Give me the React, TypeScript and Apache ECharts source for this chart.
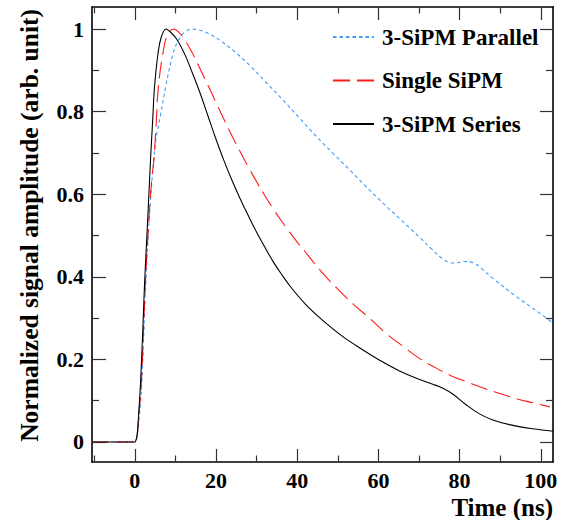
import React, { useEffect, useRef } from "react";
import * as echarts from "echarts";

// ---- Data ----
const PARALLEL_T = [-10.6, 0, 0.3, 0.6, 1.0, 1.7, 2.7, 3.6, 4.7, 5.3, 6.3, 7.7, 9.4, 10.6, 12, 14, 16, 18, 21.3, 24.5, 28.3, 32, 36.5, 40.5, 44.7, 48.8, 52.9, 56.5, 60.3, 65.2, 70.1, 73, 75.9, 77.5, 79, 80.8, 83.3, 85.5, 88.2, 94, 99.7, 102.6];
const PARALLEL_V = [0, 0, 0.004, 0.015, 0.05, 0.143, 0.385, 0.545, 0.69, 0.74, 0.79, 0.865, 0.94, 0.97, 0.99, 1.0, 0.997, 0.99, 0.97, 0.946, 0.912, 0.874, 0.828, 0.785, 0.74, 0.699, 0.659, 0.623, 0.586, 0.541, 0.496, 0.468, 0.443, 0.435, 0.433, 0.437, 0.434, 0.419, 0.396, 0.352, 0.312, 0.291];

const SINGLE_T = [-10.6, 0, 0.3, 0.6, 0.9, 1.6, 2.6, 3.5, 4.2, 4.7, 5.3, 5.8, 6.9, 8, 9.6, 11, 12.2, 14, 16, 18, 20, 22, 24, 26, 28, 30, 32, 34, 36, 38, 40, 42, 46, 50, 54, 58, 62, 66, 70, 74, 78, 82, 86, 90, 94, 98, 102.2];
const SINGLE_V = [0, 0, 0.004, 0.018, 0.055, 0.143, 0.385, 0.545, 0.64, 0.683, 0.78, 0.86, 0.94, 0.985, 1.0, 0.99, 0.975, 0.945, 0.905, 0.864, 0.822, 0.78, 0.74, 0.702, 0.665, 0.63, 0.597, 0.566, 0.537, 0.51, 0.484, 0.46, 0.412, 0.37, 0.332, 0.298, 0.262, 0.232, 0.203, 0.18, 0.16, 0.145, 0.13, 0.117, 0.105, 0.095, 0.085];

const SERIES_T = [-10.6, 0, 0.3, 0.6, 0.9, 1.4, 2.0, 2.4, 3.2, 3.9, 4.4, 4.85, 5.7, 6.5, 7.7, 8.5, 10.2, 12.2, 14, 16, 18, 20, 22, 24, 26, 28, 30, 32, 34, 36, 38.5, 42, 46, 51, 56, 60.3, 65.2, 70, 73.4, 75.9, 78.3, 81.6, 84.9, 88, 92.3, 98, 103];
const SERIES_V = [0, 0, 0.005, 0.02, 0.061, 0.143, 0.28, 0.385, 0.545, 0.69, 0.78, 0.86, 0.94, 0.98, 1.0, 0.995, 0.977, 0.941, 0.898, 0.847, 0.79, 0.733, 0.68, 0.632, 0.588, 0.547, 0.508, 0.472, 0.438, 0.408, 0.374, 0.334, 0.297, 0.257, 0.224, 0.198, 0.172, 0.152, 0.14, 0.13, 0.116, 0.09, 0.068, 0.054, 0.042, 0.032, 0.026];

const SERIES_NAMES = ["3-SiPM Parallel", "Single SiPM", "3-SiPM Series"];

const MAJOR_X = [0, 20, 40, 60, 80, 100];
const MINOR_X = [-10, 10, 30, 50, 70, 90];
const MAJOR_Y = [0, 0.2, 0.4, 0.6, 0.8, 1];
const MINOR_Y = [0.1, 0.3, 0.5, 0.7, 0.9];

const X_TITLE = "Time (ns)";
const Y_TITLE = "Normalized signal amplitude (arb. unit)";

const XMIN = -10.55;
const XMAX = 103;
const YMIN = -0.0485;
const YMAX = 1.0533;

const FONT = "Liberation Serif";

function zip(t: number[], v: number[]) {
  return t.map((x, i) => [x, v[i]]);
}

export default function App() {
  const ref = useRef<HTMLDivElement>(null);
  useEffect(() => {
    if (!ref.current) return;
    const chart = echarts.init(ref.current, undefined, { renderer: "svg" });
    const gridBox = { left: 92, right: 16, top: 7, bottom: 58 };
    const lineCol = "#000";
    const tickCol = "#333";
    const mkX = (grid: number, pos: string, vals: number[], len: number, labels: boolean, line: boolean) => ({
      type: "value",
      gridIndex: grid,
      position: pos,
      min: XMIN,
      max: XMAX,
      axisLine: { show: line, onZero: false, lineStyle: { color: lineCol, width: 1.6 } },
      axisTick: { show: true, inside: true, length: len, customValues: vals, lineStyle: { color: tickCol, width: 1.2 } },
      axisLabel: labels
        ? { show: true, customValues: vals, margin: 7, fontFamily: FONT, fontWeight: "bold", fontSize: 22, color: "#000" }
        : { show: false },
      splitLine: { show: false },
    });
    const mkY = (grid: number, pos: string, vals: number[], len: number, labels: boolean, line: boolean) => ({
      type: "value",
      gridIndex: grid,
      position: pos,
      min: YMIN,
      max: YMAX,
      axisLine: { show: line, onZero: false, lineStyle: { color: lineCol, width: 1.6 } },
      axisTick: { show: true, inside: true, length: len, customValues: vals, lineStyle: { color: tickCol, width: 1.2 } },
      axisLabel: labels
        ? { show: true, customValues: vals, margin: 8, fontFamily: FONT, fontWeight: "bold", fontSize: 22, color: "#000" }
        : { show: false },
      splitLine: { show: false },
    });
    chart.setOption({
      animation: false,
      backgroundColor: "#fff",
      textStyle: { fontFamily: FONT },
      grid: [
        { ...gridBox, containLabel: false },
        { ...gridBox, containLabel: false },
      ],
      xAxis: [
        mkX(0, "bottom", MAJOR_X, 13, true, true),
        mkX(0, "top", MAJOR_X, 13, false, true),
        mkX(1, "bottom", MINOR_X, 6.5, false, false),
        mkX(1, "top", MINOR_X, 6.5, false, false),
      ],
      yAxis: [
        mkY(0, "left", MAJOR_Y, 14, true, true),
        mkY(0, "right", MAJOR_Y, 13, false, true),
        mkY(1, "left", MINOR_Y, 7, false, false),
        mkY(1, "right", MINOR_Y, 7, false, false),
      ],
      legend: {
        orient: "vertical",
        left: 327,
        top: 20,
        itemWidth: 41,
        itemHeight: 12,
        itemGap: 19.5,
        data: SERIES_NAMES,
        itemStyle: { opacity: 0 },
        textStyle: { fontFamily: FONT, fontWeight: "bold", fontSize: 23, color: "#000", lineHeight: 24, padding: [0, 0, 0, 3] },
      },
      graphic: [
        {
          type: "text",
          x: 553,
          y: 507,
          style: { text: X_TITLE, align: "right", verticalAlign: "middle", font: "bold 25px Liberation Serif", fill: "#000" },
        },
        {
          type: "text",
          x: 29,
          y: 9,
          rotation: Math.PI / 2,
          style: { text: Y_TITLE, align: "right", verticalAlign: "middle", font: "bold 25.5px Liberation Serif", fill: "#000" },
        },
      ],
      series: [
        {
          name: SERIES_NAMES[0],
          type: "line",
          xAxisIndex: 0,
          yAxisIndex: 0,
          data: zip(PARALLEL_T, PARALLEL_V),
          symbol: "none",
          smooth: 0.4,
          itemStyle: { color: "#3d9bff" },
          lineStyle: { color: "#3d9bff", width: 1.1, type: [3.5, 3] },
        },
        {
          name: SERIES_NAMES[1],
          type: "line",
          xAxisIndex: 0,
          yAxisIndex: 0,
          data: zip(SINGLE_T, SINGLE_V),
          symbol: "none",
          smooth: 0.4,
          itemStyle: { color: "#ff1a1a" },
          lineStyle: { color: "#ff1a1a", width: 1.1, type: [17, 7] },
        },
        {
          name: SERIES_NAMES[2],
          type: "line",
          xAxisIndex: 0,
          yAxisIndex: 0,
          data: zip(SERIES_T, SERIES_V),
          symbol: "none",
          smooth: 0.4,
          itemStyle: { color: "#000" },
          lineStyle: { color: "#000", width: 1.1, type: "solid" },
        },
      ],
    });
    return () => chart.dispose();
  }, []);
  return (
    <div
      ref={ref}
      style={{ position: "fixed", left: 0, top: 0, width: 569, height: 520, background: "#fff" }}
    />
  );
}
